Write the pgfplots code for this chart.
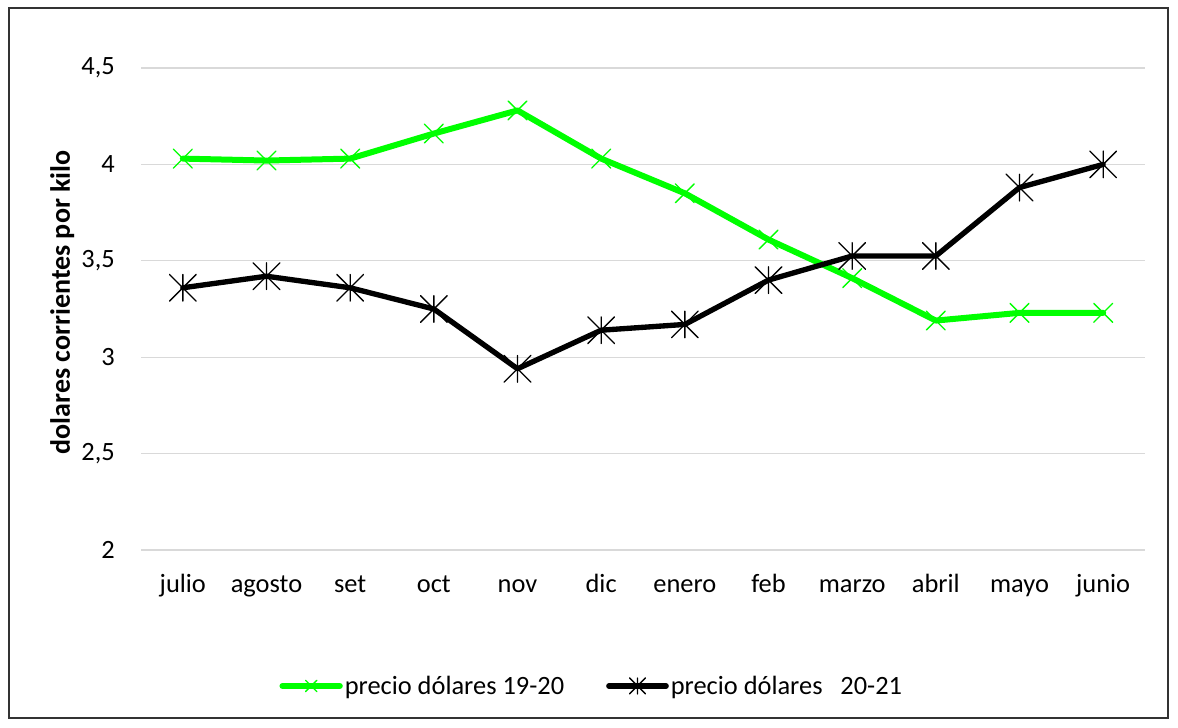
\documentclass[border=0pt]{standalone}
\usepackage{pgfplots}
\pgfplotsset{compat=1.18}
\usepackage{fontspec}
\setmainfont{Carlito}
\pgfdeclareplotmark{xstar}{%
  \pgfpathmoveto{\pgfqpoint{-\pgfplotmarksize}{-\pgfplotmarksize}}%
  \pgfpathlineto{\pgfqpoint{\pgfplotmarksize}{\pgfplotmarksize}}%
  \pgfpathmoveto{\pgfqpoint{-\pgfplotmarksize}{\pgfplotmarksize}}%
  \pgfpathlineto{\pgfqpoint{\pgfplotmarksize}{-\pgfplotmarksize}}%
  \pgfpathmoveto{\pgfqpoint{0pt}{-\pgfplotmarksize}}%
  \pgfpathlineto{\pgfqpoint{0pt}{\pgfplotmarksize}}%
  \pgfusepathqstroke}
\definecolor{lime}{HTML}{00FF00}
\definecolor{gridc}{HTML}{D9D9D9}
\begin{document}
\begin{tikzpicture}
\useasboundingbox (0pt,0pt) rectangle (883.5pt,546pt);
\draw[line width=1.2pt, color=black!80] (6.75pt,7.5pt) rectangle (876pt,540pt);
\begin{axis}[
  at={(105.75pt,133.5pt)}, anchor=south west,
  scale only axis, width=753pt, height=361.5pt,
  xmin=-0.5, xmax=11.5, ymin=2, ymax=4.5,
  xtick={0,...,11},
  xticklabels={julio,agosto,set,oct,nov,dic,enero,feb,marzo,abril,mayo,junio},
  ytick={2,2.5,3,3.5,4,4.5},
  yticklabels={2,{2,5},3,{3,5},4,{4,5}},
  tick style={draw=none},
  axis line style={draw=none},
  ymajorgrids, grid style={gridc, line width=1pt},
  font=\fontsize{19.8}{22}\selectfont,
  xticklabel style={anchor=base, yshift=-32pt},
  yticklabel style={anchor=east, inner sep=0pt, xshift=-19.5pt},
  ylabel={\textbf{dolares corrientes por kilo}},
  ylabel style={at={(axis description cs:0,0.5)}, anchor=center, yshift=59pt, xshift=5pt,
    font=\fontsize{21}{24}\selectfont},
  legend columns=2,
  legend style={draw=none, at={(0.449,-0.282)}, anchor=center, font=\fontsize{19.8}{22}\selectfont,
    nodes={inner sep=1.5pt},
    /tikz/every even column/.append style={column sep=30pt}},
  legend image code/.code={
    \draw[#1, mark=none, line cap=round] (0pt,0pt) -- (43pt,0pt);
    \draw[#1, only marks, line width=1pt, mark size=6pt] plot coordinates {(21.5pt,0pt)};
  },
  clip=false,
]
\addplot[lime, line width=4.5pt, line join=round, line cap=round, mark=x, mark size=10pt, mark options={line width=1pt, solid}] coordinates {
(0,4.03) (1,4.02) (2,4.03) (3,4.16) (4,4.28) (5,4.03) (6,3.85) (7,3.61) (8,3.41) (9,3.19) (10,3.23) (11,3.23)};
\addlegendentry{precio dólares 19-20}
\addplot[black, line width=4pt, line join=round, line cap=round, mark=xstar, mark size=10pt, mark options={line width=1pt, solid}] coordinates {
(0,3.36) (1,3.42) (2,3.36) (3,3.25) (4,2.94) (5,3.14) (6,3.17) (7,3.40) (8,3.525) (9,3.525) (10,3.88) (11,4.00)};
\addlegendentry{precio dólares\ \ \ 20-21}
\end{axis}
\end{tikzpicture}
\end{document}
